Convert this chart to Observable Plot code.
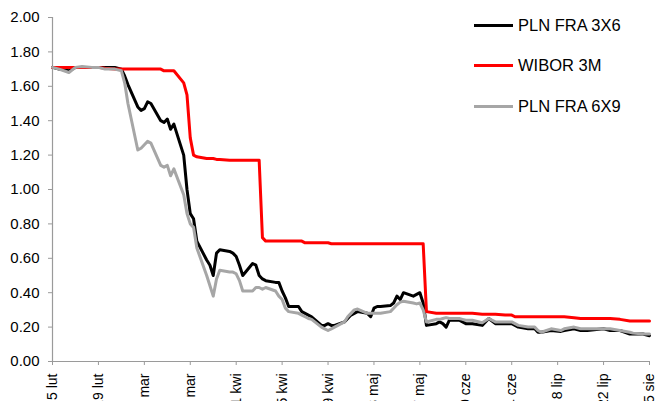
<!DOCTYPE html>
<html>
<head>
<meta charset="utf-8">
<script src="https://cdn.jsdelivr.net/npm/d3@7"></script>
<script src="https://cdn.jsdelivr.net/npm/@observablehq/plot@0.6"></script>
<style>
  html, body { margin: 0; padding: 0; background: #fff; }
  #wrap { position: relative; width: 658px; height: 401px; overflow: hidden; font-family: "Liberation Sans", Arial, sans-serif; }
  .leg { position: absolute; left: 474px; display: flex; align-items: center; font-size: 16.5px; color: #000; }
  .leg span.sw { display: inline-block; width: 39px; height: 3px; margin-right: 5px; }
</style>
</head>
<body>
<div id="wrap"></div>
<script>
const dates = ["2020-02-05","2020-02-07","2020-02-10","2020-02-12","2020-02-14","2020-02-17","2020-02-19","2020-02-21","2020-02-24","2020-02-26","2020-02-27","2020-02-28","2020-03-02","2020-03-03","2020-03-04","2020-03-05","2020-03-06","2020-03-09","2020-03-10","2020-03-11","2020-03-12","2020-03-13","2020-03-16","2020-03-17","2020-03-18","2020-03-19","2020-03-20","2020-03-23","2020-03-24","2020-03-25","2020-03-26","2020-03-27","2020-03-30","2020-03-31","2020-04-01","2020-04-02","2020-04-03","2020-04-06","2020-04-07","2020-04-08","2020-04-09","2020-04-10","2020-04-13","2020-04-14","2020-04-15","2020-04-16","2020-04-17","2020-04-20","2020-04-21","2020-04-22","2020-04-23","2020-04-24","2020-04-27","2020-04-28","2020-04-29","2020-04-30","2020-05-01","2020-05-04","2020-05-05","2020-05-06","2020-05-07","2020-05-08","2020-05-11","2020-05-12","2020-05-13","2020-05-14","2020-05-15","2020-05-18","2020-05-19","2020-05-20","2020-05-21","2020-05-22","2020-05-25","2020-05-26","2020-05-27","2020-05-28","2020-05-29","2020-06-01","2020-06-02","2020-06-03","2020-06-04","2020-06-05","2020-06-08","2020-06-09","2020-06-10","2020-06-12","2020-06-15","2020-06-17","2020-06-19","2020-06-22","2020-06-24","2020-06-25","2020-06-26","2020-06-29","2020-07-01","2020-07-02","2020-07-03","2020-07-06","2020-07-09","2020-07-10","2020-07-13","2020-07-15","2020-07-17","2020-07-22","2020-07-24","2020-07-27","2020-07-30","2020-07-31","2020-08-03","2020-08-05"];

const fra3x6 = [1.71,1.70,1.69,1.71,1.71,1.71,1.71,1.71,1.71,1.70,1.66,1.61,1.48,1.46,1.47,1.51,1.50,1.40,1.39,1.41,1.35,1.38,1.20,1.00,0.86,0.83,0.70,0.59,0.56,0.50,0.63,0.65,0.64,0.63,0.61,0.56,0.50,0.57,0.56,0.50,0.48,0.47,0.46,0.46,0.41,0.37,0.32,0.32,0.29,0.28,0.27,0.26,0.21,0.21,0.22,0.21,0.21,0.23,0.25,0.27,0.28,0.29,0.28,0.26,0.31,0.32,0.32,0.325,0.34,0.38,0.36,0.40,0.38,0.39,0.40,0.34,0.21,0.22,0.23,0.22,0.20,0.24,0.24,0.23,0.22,0.22,0.21,0.25,0.22,0.22,0.22,0.21,0.20,0.19,0.19,0.17,0.17,0.18,0.175,0.18,0.19,0.18,0.18,0.19,0.18,0.18,0.16,0.16,0.16,0.15];

const wibor3m = [1.71,1.71,1.71,1.71,1.71,1.71,1.71,1.705,1.70,1.70,1.70,1.70,1.70,1.70,1.70,1.70,1.70,1.70,1.69,1.69,1.69,1.69,1.62,1.55,1.30,1.20,1.19,1.18,1.18,1.18,1.175,1.175,1.17,1.17,1.17,1.17,1.17,1.17,1.17,1.17,0.72,0.70,0.70,0.70,0.70,0.70,0.70,0.70,0.70,0.69,0.69,0.69,0.69,0.69,0.69,0.685,0.685,0.685,0.685,0.685,0.685,0.685,0.685,0.685,0.685,0.685,0.685,0.685,0.685,0.685,0.685,0.685,0.685,0.685,0.685,0.685,0.29,0.28,0.28,0.28,0.28,0.28,0.28,0.28,0.28,0.28,0.275,0.275,0.275,0.27,0.27,0.26,0.26,0.26,0.26,0.26,0.26,0.26,0.26,0.26,0.255,0.25,0.25,0.25,0.25,0.245,0.235,0.235,0.235,0.235];

const fra6x9 = [1.71,1.70,1.68,1.71,1.715,1.71,1.71,1.70,1.70,1.69,1.62,1.50,1.23,1.24,1.26,1.28,1.27,1.14,1.13,1.14,1.08,1.12,0.97,0.86,0.80,0.78,0.66,0.50,0.44,0.38,0.48,0.53,0.52,0.52,0.51,0.47,0.41,0.41,0.43,0.43,0.42,0.43,0.41,0.38,0.36,0.31,0.29,0.28,0.27,0.26,0.25,0.245,0.20,0.19,0.18,0.19,0.20,0.23,0.26,0.28,0.30,0.305,0.28,0.28,0.28,0.28,0.28,0.29,0.31,0.33,0.345,0.35,0.34,0.335,0.34,0.30,0.23,0.245,0.245,0.25,0.255,0.25,0.25,0.245,0.24,0.24,0.225,0.25,0.23,0.23,0.23,0.22,0.21,0.20,0.20,0.18,0.17,0.19,0.18,0.19,0.20,0.19,0.19,0.19,0.19,0.18,0.17,0.165,0.16,0.16];

const seriesNames = ["PLN FRA 3X6", "WIBOR 3M", "PLN FRA 6X9"];
const seriesColors = ["#000000", "#ff0000", "#a6a6a6"];

const tickDates = ["2020-02-05","2020-02-19","2020-03-04","2020-03-18","2020-04-01","2020-04-15","2020-04-29","2020-05-13","2020-05-27","2020-06-10","2020-06-24","2020-07-08","2020-07-22","2020-08-05"];
const tickLabels = ["5 lut","19 lut","4 mar","18 mar","1 kwi","15 kwi","29 kwi","13 maj","27 maj","10 cze","24 cze","8 lip","22 lip","5 sie"];
const yTicks = [0,0.2,0.4,0.6,0.8,1.0,1.2,1.4,1.6,1.8,2.0];

const parse = d3.utcParse("%Y-%m-%d");
const seriesValues = [fra3x6, wibor3m, fra6x9];
const data = [];
seriesNames.forEach((name, s) => {
  dates.forEach((d, i) => data.push({date: parse(d), value: seriesValues[s][i], series: name}));
});
const tickDateObjs = tickDates.map(parse);
const labelByTime = new Map(tickDateObjs.map((d, i) => [+d, tickLabels[i]]));

const chart = Plot.plot({
  width: 658,
  height: 401,
  marginLeft: 52,
  marginRight: 9,
  marginTop: 17,
  marginBottom: 40,
  style: {fontFamily: "'Liberation Sans', Arial, sans-serif", color: "#000", background: "#fff", overflow: "visible"},
  x: {type: "utc", domain: [tickDateObjs[0], tickDateObjs[tickDateObjs.length - 1]]},
  y: {domain: [0, 2]},
  color: {domain: seriesNames, range: seriesColors},
  marks: [
    Plot.axisY({ticks: yTicks, tickFormat: d3.format(".2f"), tickSize: 4, tickPadding: 9, fontSize: 15, stroke: "#9a9a9a", label: null}),
    Plot.axisX({ticks: tickDateObjs, tickFormat: d => labelByTime.get(+d), tickSize: 4, tickPadding: 8, tickRotate: -90, fontSize: 14, stroke: "#9a9a9a", label: null}),
    Plot.ruleX([0], {x: () => tickDateObjs[0], stroke: "#9a9a9a", strokeWidth: 1.2}),
    Plot.ruleY([0], {stroke: "#9a9a9a", strokeWidth: 1.2}),
    Plot.lineY(data, {x: "date", y: "value", z: "series", stroke: "series", strokeWidth: 3, strokeLinejoin: "round"})
  ]
});
document.getElementById("wrap").appendChild(chart);

const wrap = document.getElementById("wrap");
const legTops = [25, 65, 106];
seriesNames.forEach((name, i) => {
  const el = document.createElement("div");
  el.className = "leg";
  el.style.top = (legTops[i] - 10) + "px";
  el.style.height = "20px";
  el.innerHTML = `<span class="sw" style="background:${seriesColors[i]}"></span><span>${name}</span>`;
  wrap.appendChild(el);
});
</script>
</body>
</html>
